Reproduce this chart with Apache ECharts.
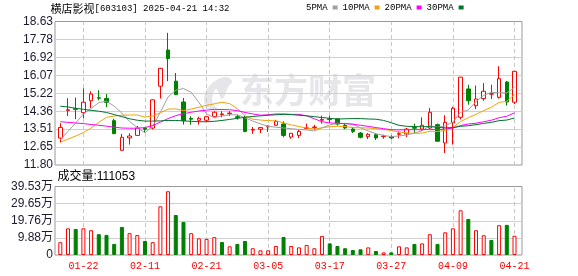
<!DOCTYPE html>
<html><head><meta charset="utf-8">
<script src="https://cdn.jsdelivr.net/npm/echarts@6/dist/echarts.min.js"></script>
<style>html,body{margin:0;padding:0;background:#fff}#c{width:578px;height:276px}</style>
</head><body><div id="c"></div>
<script>
const dates = ['01-17','01-20','01-21','01-22','01-23','01-24','01-27','02-05','02-06','02-07','02-10','02-11','02-12','02-13','02-14','02-17','02-18','02-19','02-20','02-21','02-24','02-25','02-26','02-27','02-28','03-03','03-04','03-05','03-06','03-07','03-10','03-11','03-12','03-13','03-14','03-17','03-18','03-19','03-20','03-21','03-24','03-25','03-26','03-27','03-28','03-31','04-01','04-02','04-03','04-07','04-08','04-09','04-10','04-11','04-14','04-15','04-16','04-17','04-18','04-21'];
const opens  = [13.08,14.40,14.48,14.29,14.86,15.00,14.97,13.91,12.50,13.09,13.21,13.55,13.56,15.55,17.27,15.79,14.80,14.02,13.93,13.93,14.10,14.20,14.24,14.10,14.04,13.46,13.50,13.62,13.69,13.75,13.13,13.21,13.54,13.58,13.93,13.96,13.99,13.69,13.51,13.32,13.15,13.24,13.15,13.15,13.26,13.28,13.58,13.51,13.56,13.72,12.85,13.80,14.07,15.42,14.62,14.96,15.17,15.02,15.75,14.79];
const closes = [13.59,14.43,14.45,14.79,15.18,14.98,14.78,13.29,13.12,13.18,13.56,13.50,14.90,16.40,16.86,15.15,13.91,13.98,14.02,14.10,14.31,14.23,14.27,14.06,13.40,13.49,13.58,13.65,13.88,13.21,13.31,13.40,13.57,13.61,13.97,14.00,13.75,13.56,13.40,13.12,13.26,13.09,13.18,13.09,13.29,13.51,13.55,13.69,14.31,12.93,13.83,14.50,15.98,14.86,14.94,15.31,15.19,15.91,14.80,16.26];
const lows   = [12.88,14.13,13.98,14.02,14.51,14.88,14.55,13.27,12.48,12.77,13.19,13.35,13.50,14.96,15.79,15.13,13.72,13.72,13.72,13.85,14.03,14.07,14.14,13.96,13.36,13.28,13.32,13.37,13.67,13.12,13.05,13.08,13.51,13.48,13.77,13.80,13.68,13.50,13.32,13.07,13.04,12.99,13.05,13.02,13.07,13.13,13.32,13.42,13.51,12.93,12.37,12.77,13.97,14.67,14.46,14.86,14.94,14.96,14.63,14.70];
const highs  = [13.79,14.98,15.01,15.45,15.31,15.36,15.18,14.00,13.28,13.31,13.66,13.60,14.92,16.42,18.09,16.18,14.99,14.12,14.10,14.12,14.35,14.36,14.36,14.20,14.17,13.61,13.60,13.69,13.95,13.88,13.32,13.48,13.77,13.71,14.15,14.15,14.03,13.80,13.61,13.37,13.32,13.32,13.24,13.21,13.40,13.56,13.77,14.07,14.51,13.77,14.17,14.57,15.99,15.62,15.58,15.70,15.62,16.50,15.80,16.27];
const ma5  = [13.00,13.40,13.80,14.23,14.49,14.77,14.84,14.60,14.27,13.87,13.59,13.33,13.65,14.31,15.04,15.36,15.44,15.26,14.78,14.23,14.06,14.13,14.19,14.19,14.05,13.89,13.76,13.64,13.60,13.56,13.53,13.49,13.47,13.42,13.57,13.71,13.78,13.78,13.74,13.57,13.42,13.29,13.21,13.15,13.18,13.23,13.32,13.43,13.67,13.60,13.66,13.85,14.31,14.42,14.82,15.12,15.26,15.24,15.23,15.49];
const ma10 = [12.88,13.03,13.18,13.34,13.56,13.83,14.07,14.13,14.17,14.18,14.18,14.08,14.13,14.29,14.46,14.47,14.39,14.46,14.55,14.64,14.71,14.79,14.72,14.49,14.14,13.98,13.94,13.91,13.90,13.81,13.71,13.63,13.56,13.51,13.57,13.62,13.64,13.63,13.58,13.57,13.56,13.53,13.49,13.44,13.37,13.33,13.31,13.32,13.41,13.39,13.45,13.59,13.87,14.05,14.21,14.39,14.55,14.78,14.83,15.16];
const ma20 = [13.86,13.83,13.80,13.77,13.73,13.69,13.65,13.60,13.56,13.55,13.55,13.58,13.68,13.84,14.01,14.15,14.24,14.31,14.37,14.41,14.45,14.44,14.43,14.39,14.30,14.23,14.17,14.19,14.23,14.23,14.21,14.21,14.14,14.00,13.86,13.80,13.79,13.77,13.74,13.69,13.64,13.58,13.53,13.48,13.47,13.48,13.48,13.48,13.50,13.48,13.51,13.56,13.68,13.75,13.79,13.86,13.93,14.05,14.12,14.28];
const ma30 = [14.60,14.56,14.50,14.45,14.40,14.36,14.30,14.20,14.10,14.00,13.93,13.89,13.89,13.90,13.92,13.92,13.90,13.88,13.86,13.86,13.88,13.92,13.97,14.02,14.07,14.11,14.14,14.17,14.19,14.21,14.20,14.17,14.14,14.10,14.06,14.02,13.99,14.00,14.01,14.01,13.99,13.98,13.92,13.81,13.69,13.64,13.63,13.62,13.63,13.59,13.57,13.58,13.64,13.67,13.72,13.78,13.83,13.91,13.94,14.04];
const volumes = [7.4,15.4,15.0,15.4,14.3,12.0,11.6,6.4,16.2,12.6,11.5,8.1,7.4,28.1,36.8,23.1,19.1,12.6,9.6,9.3,10.3,7.5,5.0,6.4,8.1,3.9,2.7,2.7,5.2,10.4,5.2,4.4,5.8,3.9,11.0,6.7,5.2,3.9,2.9,3.3,4.4,2.3,1.5,1.5,5.0,4.4,6.4,6.7,12.0,6.4,13.1,15.4,25.8,20.8,14.3,11.4,8.7,17.2,17.4,11.1053];
const volUp = [1,1,0,1,1,0,0,0,0,1,1,0,1,1,1,0,0,1,1,1,1,0,1,0,0,1,1,1,1,0,1,1,1,1,1,0,0,0,0,0,1,0,1,0,1,1,0,1,1,0,1,1,1,0,1,1,0,1,0,1];
const priceTickLabels = ['11.80','12.65','13.51','14.36','15.22','16.07','16.92','17.78','18.63'];
const volTickLabels = ['0','9.88万','19.76万','29.65万','39.53万'];
const xTickDates = ['01-22','02-11','02-21','03-05','03-17','03-27','04-09','04-21'];
const priceMin = 11.80, priceMax = 18.63, volMax = 39.53;
const stockName = '横店影视', stockCode = '603103', stamp = '2025-04-21 14:32';
const volTitle = '成交量', lastVolume = '111053';
const maNames = ['5PMA','10PMA','20PMA','30PMA'];
const maColors = ['#a0a0a0','#f0a30a','#ff00ff','#00752d'];

const UP = '#ff0000', DOWN = '#008000';
const chart = echarts.init(document.getElementById('c'), null, {renderer:'canvas'});
const dash = {symbol:'none', silent:true, z:1, label:{show:false}, emphasis:{disabled:true},
  lineStyle:{type:[4,3], color:'#c8c8c8', width:1}, data: xTickDates.map(d => ({xAxis:d}))};
const labelFont = '"Liberation Sans", "Noto Sans CJK SC", sans-serif';
const frameY = (labels) => ({type:'value', min:0, max:labels.length-1, interval:1,
  axisLine:{show:false}, axisTick:{show:false},
  splitLine:{show:true, showMinLine:false, showMaxLine:false, lineStyle:{color:'#d0d0d0', width:1}},
  axisLabel:{formatter:v => labels[Math.round(v)], color:'#1b1b2f', fontSize:12, fontFamily:labelFont, margin:2}});

const option = {
  animation:false,
  backgroundColor:'#fff',
  grid:[
    {left:55, top:21.5, width:467, height:143.5, show:true, borderColor:'#999', borderWidth:1, backgroundColor:'transparent'},
    {left:56.45, top:21.5, width:461.9, height:143.5},
    {left:55, top:186.5, width:467, height:68.5, show:true, borderColor:'#999', borderWidth:1, backgroundColor:'transparent'},
    {left:56.45, top:186.5, width:461.9, height:68.5}
  ],
  xAxis:[
    {gridIndex:0, type:'value', min:0, max:1, show:false},
    {gridIndex:1, type:'category', data:dates, boundaryGap:true, show:false},
    {gridIndex:2, type:'value', min:0, max:1, show:false},
    {gridIndex:3, type:'category', data:dates, boundaryGap:true,
      axisLine:{show:false}, axisTick:{show:false}, splitLine:{show:false},
      axisLabel:{interval:(i, v) => xTickDates.indexOf(v) >= 0, color:'#ff0000', fontSize:10,
        fontFamily:'"Liberation Mono", monospace', margin:6, hideOverlap:false}}
  ],
  yAxis:[
    Object.assign({gridIndex:0}, frameY(priceTickLabels)),
    {gridIndex:1, type:'value', min:priceMin, max:priceMax, show:false, splitLine:{show:false}},
    Object.assign({gridIndex:2}, frameY(volTickLabels)),
    {gridIndex:3, type:'value', min:0, max:volMax, show:false, splitLine:{show:false}}
  ],
  legend:{left:306, top:3, padding:0, itemWidth:5, itemHeight:4, itemGap:5, align:'right', icon:'rect',
    data:maNames, selectedMode:false,
    textStyle:{fontFamily:'"Liberation Mono", monospace', fontSize:9, color:'#000'}},
  graphic:[
    {type:'text', left:50.5, top:3, z:10, style:{
      text:'{a|' + stockName + '}{b|[' + stockCode + '] ' + stamp + '}',
      rich:{a:{fontSize:11, fontFamily:'"Noto Sans CJK SC"', fill:'#000', verticalAlign:'middle'},
            b:{fontSize:9, fontFamily:'"Liberation Mono", monospace', fill:'#000', verticalAlign:'middle'}}}},
    {type:'text', left:57.5, top:171, z:10, style:{text:volTitle + ':' + lastVolume, fontSize:12,
      fontFamily:labelFont, fill:'#000'}},
    {type:'text', left:240, top:73, z:0, silent:true, style:{text:'东方财富', fontSize:34, fontWeight:'bold',
      fontFamily:'"Noto Sans CJK SC"', fill:'#e6e6ea'}},
    {type:'polygon', left:204, top:77, z:0, silent:true, shape:{smooth:0.4, points:[
      [22,0],[8,8],[2,20],[5,31],[16,34],[10,24],[14,12],[20,22],[26,10],[30,4]]},
      style:{fill:'#e6e6ea'}}
  ],
  series:[
    {type:'candlestick', name:'K', xAxisIndex:1, yAxisIndex:1, barWidth:4, z:2,
      data: dates.map((d, i) => [opens[i], closes[i], lows[i], highs[i]]),
      itemStyle:{color:'#ffffff', color0:DOWN, borderColor:UP, borderColor0:DOWN, borderWidth:1},
      emphasis:{disabled:true}, markLine:dash},
    ...[ma5, ma10, ma20, ma30].map((arr, k) => ({type:'line', name:maNames[k], xAxisIndex:1, yAxisIndex:1,
      data:arr, symbol:'none', z:3, lineStyle:{width:1, color:maColors[k]}, itemStyle:{color:maColors[k]},
      emphasis:{disabled:true}})),
    {type:'bar', name:'VOL', xAxisIndex:3, yAxisIndex:3, barWidth:4, z:2,
      data: volumes.map((v, i) => ({value:v, itemStyle: volUp[i]
        ? {color:'#ffffff', borderColor:UP, borderWidth:1}
        : {color:DOWN, borderColor:DOWN, borderWidth:1}})),
      emphasis:{disabled:true}, markLine:dash}
  ]
};
chart.setOption(option);
</script></body></html>
